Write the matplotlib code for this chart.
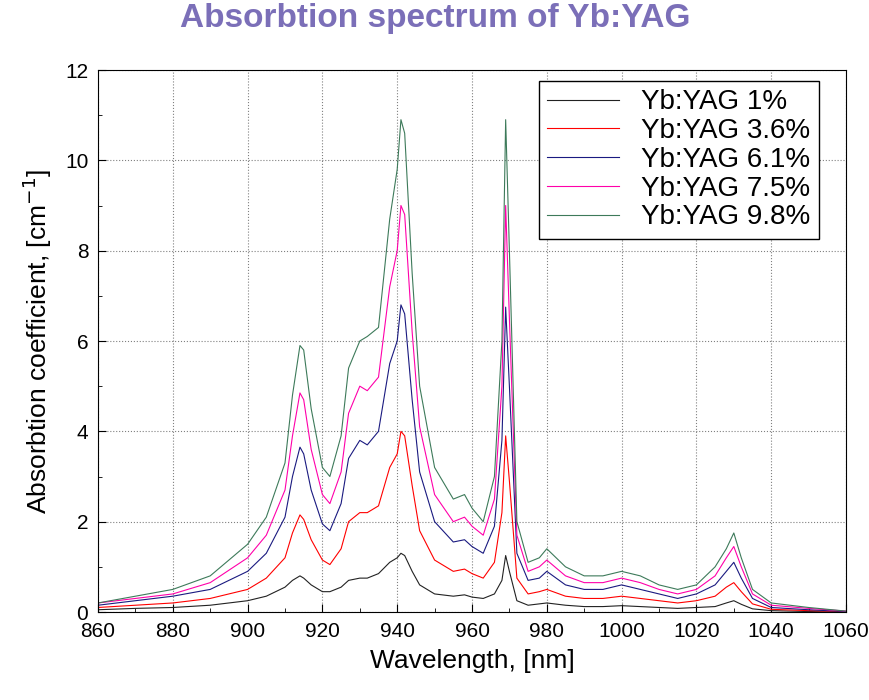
import numpy as np
import matplotlib.pyplot as plt
from matplotlib.ticker import MultipleLocator

plt.rcParams['font.family'] = ['Liberation Sans', 'DejaVu Sans']

wl = [860, 870, 880, 890, 900, 905, 910, 912, 914, 915, 917, 920, 922, 925, 927, 930, 932, 935, 938, 940,
      941, 942, 944, 946, 950, 955, 958, 960, 963, 966, 968, 969, 970, 972, 975, 978, 980, 985, 990, 995,
      1000, 1005, 1010, 1015, 1020, 1025, 1028, 1030, 1032, 1035, 1040, 1050, 1060]

yag1 = [0.05, 0.08, 0.1, 0.15, 0.25, 0.35, 0.55, 0.7, 0.8, 0.75, 0.6, 0.45, 0.45, 0.55, 0.7, 0.75, 0.75, 0.85, 1.1, 1.2,
        1.3, 1.25, 0.9, 0.6, 0.4, 0.35, 0.38, 0.33, 0.3, 0.4, 0.7, 1.25, 0.9, 0.25, 0.15, 0.18, 0.2, 0.15, 0.12, 0.12,
        0.14, 0.12, 0.1, 0.08, 0.1, 0.12, 0.2, 0.25, 0.17, 0.07, 0.03, 0.01, 0.0]
yag36 = [0.1, 0.15, 0.2, 0.3, 0.5, 0.75, 1.2, 1.75, 2.15, 2.05, 1.6, 1.15, 1.05, 1.4, 2.0, 2.2, 2.2, 2.35, 3.2, 3.5,
         4.0, 3.9, 2.8, 1.8, 1.15, 0.9, 0.95, 0.85, 0.75, 1.1, 2.2, 3.9, 2.9, 0.75, 0.4, 0.45, 0.5, 0.35, 0.3, 0.3,
         0.35, 0.3, 0.25, 0.2, 0.25, 0.35, 0.55, 0.65, 0.45, 0.18, 0.06, 0.03, 0.01]
yag61 = [0.15, 0.25, 0.35, 0.5, 0.9, 1.3, 2.1, 3.0, 3.65, 3.5, 2.7, 1.95, 1.8, 2.4, 3.4, 3.8, 3.7, 4.0, 5.5, 6.0,
         6.8, 6.6, 4.7, 3.1, 2.0, 1.55, 1.6, 1.45, 1.3, 1.9, 3.8, 6.75, 5.0, 1.3, 0.7, 0.75, 0.9, 0.6, 0.5, 0.5,
         0.6, 0.5, 0.4, 0.3, 0.4, 0.6, 0.9, 1.1, 0.75, 0.3, 0.1, 0.05, 0.01]
yag75 = [0.2, 0.3, 0.4, 0.65, 1.2, 1.7, 2.7, 3.9, 4.85, 4.7, 3.6, 2.6, 2.4, 3.1, 4.4, 5.0, 4.9, 5.2, 7.2, 8.0,
         9.0, 8.8, 6.2, 4.1, 2.6, 2.0, 2.1, 1.9, 1.7, 2.5, 5.0, 9.0, 6.5, 1.7, 0.9, 1.0, 1.15, 0.8, 0.65, 0.65,
         0.75, 0.65, 0.5, 0.4, 0.5, 0.8, 1.2, 1.45, 1.0, 0.4, 0.15, 0.08, 0.02]
yag98 = [0.2, 0.35, 0.5, 0.8, 1.5, 2.1, 3.3, 4.8, 5.9, 5.8, 4.5, 3.2, 3.0, 3.9, 5.4, 6.0, 6.1, 6.3, 8.7, 9.8,
         10.9, 10.6, 7.5, 5.0, 3.2, 2.5, 2.6, 2.3, 2.0, 3.0, 6.0, 10.9, 8.0, 2.0, 1.1, 1.2, 1.4, 1.0, 0.8, 0.8,
         0.9, 0.8, 0.6, 0.5, 0.6, 1.0, 1.4, 1.75, 1.2, 0.5, 0.2, 0.1, 0.02]

series = [("Yb:YAG 1%", yag1, "#222222"), ("Yb:YAG 3.6%", yag36, "red"),
          ("Yb:YAG 6.1%", yag61, "#1a1a80"), ("Yb:YAG 7.5%", yag75, "#ff00aa"),
          ("Yb:YAG 9.8%", yag98, "#3d7a5a")]

fig = plt.figure(figsize=(8.7, 7), dpi=100)
ax = fig.add_axes([98 / 870, 88 / 700, 748 / 870, 542 / 700])
for name, vals, c in series:
    ax.plot(wl, vals, color=c, lw=0.8, label=name)

ax.set_xlim(860, 1060)
ax.set_ylim(0, 12)
ax.xaxis.set_major_locator(MultipleLocator(20))
ax.xaxis.set_minor_locator(MultipleLocator(10))
ax.yaxis.set_major_locator(MultipleLocator(2))
ax.yaxis.set_minor_locator(MultipleLocator(1))
ax.tick_params(which='both', direction='in', labelsize=15, pad=7)
ax.tick_params(which='major', length=6)
ax.tick_params(which='minor', length=3)
ax.grid(True, which='major', color='gray', linestyle=':', lw=0.8)
ax.set_xlabel("Wavelength, [nm]", fontsize=19, labelpad=6)
ax.set_ylabel("Absorbtion coefficient, [cm$^{-1}$]", fontsize=19, labelpad=8)
fig.suptitle("Absorbtion spectrum of Yb:YAG", fontsize=24, fontweight='bold',
             color='#7b6fb8', y=0.995)
leg = ax.legend(loc='upper right', bbox_to_anchor=(0.975, 0.995), fontsize=20, fancybox=False,
                framealpha=1, edgecolor='black', handlelength=2.6, borderaxespad=0.3,
                labelspacing=0.1, borderpad=0.3)
leg.get_frame().set_linewidth(1.0)
fig.savefig("out.png", dpi=100)
